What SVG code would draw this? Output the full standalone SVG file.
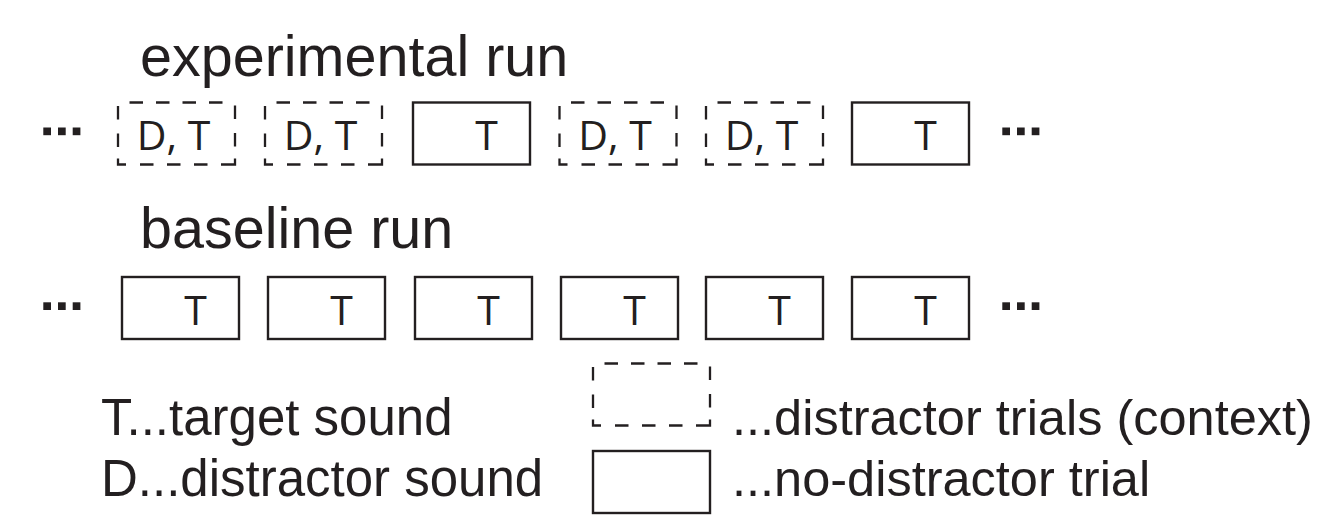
<svg xmlns="http://www.w3.org/2000/svg" xmlns:xlink="http://www.w3.org/1999/xlink" width="1336" height="515" viewBox="0 0 1336 515">
  <style>
    .title { font-family: "Liberation Sans", Arial, sans-serif; font-size: 57.5px; fill: #231f20; }
    .legend { font-family: "Liberation Sans", Arial, sans-serif; font-size: 51px; fill: #231f20; }
    .legend-r { font-family: "Liberation Sans", Arial, sans-serif; font-size: 50.5px; fill: #231f20; }
    .cell { font-family: "Open Sans", "Liberation Sans", sans-serif; font-size: 41px; fill: #231f20; text-anchor: middle; }
    .solid { fill: none; stroke: #231f20; stroke-width: 2.4; }
    .dashed { fill: none; stroke: #231f20; stroke-width: 2.3; stroke-linecap: butt; stroke-linejoin: miter; }
    .dot { fill: #231f20; }
  </style>
  <defs>
    <!-- solid trial frame, 117 x 62 -->
    <rect id="solid-frame" class="solid" x="0" y="0" width="117" height="62"/>
    <!-- dashed trial frame, 117 x 62, bottom corners drawn as brackets -->
    <path id="dashed-frame" class="dashed" d="M0,3.5 V17 M0,31 V44.5 M0,56 V62 H8 M22,62 H35.5 M49,62 H62.5 M76,62 H89.5 M103,62 H117 V56 M117,44 V30.5 M117,16.5 V3 M11.5,0 H25 M38,0 H51.5 M64.5,0 H78 M91,0 H104.5"/>
    <!-- ellipsis made of three squares -->
    <g id="ellipsis">
      <rect class="dot" x="0" y="0" width="7.7" height="7.7"/>
      <rect class="dot" x="14.7" y="0" width="7.7" height="7.7"/>
      <rect class="dot" x="29.4" y="0" width="7.7" height="7.7"/>
    </g>
  </defs>

  <!-- experimental run -->
  <text id="title-experimental" class="title" x="140" y="76">experimental run</text>
  <g id="exp-dots-left" transform="translate(43.3,127.5)"><use xlink:href="#ellipsis"/></g>
  <g id="exp-1" transform="translate(118,102.5)"><use xlink:href="#dashed-frame"/><text class="cell" x="55.5" y="47">D, T</text></g>
  <g id="exp-2" transform="translate(265,102.5)"><use xlink:href="#dashed-frame"/><text class="cell" x="55.5" y="47">D, T</text></g>
  <g id="exp-3" transform="translate(413,102.5)"><use xlink:href="#solid-frame"/><text class="cell" x="73.5" y="47">T</text></g>
  <g id="exp-4" transform="translate(559.5,102.5)"><use xlink:href="#dashed-frame"/><text class="cell" x="55.5" y="47">D, T</text></g>
  <g id="exp-5" transform="translate(706,102.5)"><use xlink:href="#dashed-frame"/><text class="cell" x="55.5" y="47">D, T</text></g>
  <g id="exp-6" transform="translate(852,102.5)"><use xlink:href="#solid-frame"/><text class="cell" x="73.5" y="47">T</text></g>
  <g id="exp-dots-right" transform="translate(1002.3,127.5)"><use xlink:href="#ellipsis"/></g>

  <!-- baseline run -->
  <text id="title-baseline" class="title" x="140" y="248">baseline run</text>
  <g id="base-dots-left" transform="translate(43.3,302.3)"><use xlink:href="#ellipsis"/></g>
  <g id="base-1" transform="translate(122,277)"><use xlink:href="#solid-frame"/><text class="cell" x="73.5" y="48">T</text></g>
  <g id="base-2" transform="translate(268,277)"><use xlink:href="#solid-frame"/><text class="cell" x="73.5" y="48">T</text></g>
  <g id="base-3" transform="translate(415,277)"><use xlink:href="#solid-frame"/><text class="cell" x="73.5" y="48">T</text></g>
  <g id="base-4" transform="translate(561,277)"><use xlink:href="#solid-frame"/><text class="cell" x="73.5" y="48">T</text></g>
  <g id="base-5" transform="translate(706,277)"><use xlink:href="#solid-frame"/><text class="cell" x="73.5" y="48">T</text></g>
  <g id="base-6" transform="translate(852,277)"><use xlink:href="#solid-frame"/><text class="cell" x="73.5" y="48">T</text></g>
  <g id="base-dots-right" transform="translate(1002.3,302.3)"><use xlink:href="#ellipsis"/></g>

  <!-- legend -->
  <g id="legend-symbols">
    <text class="legend" x="101" y="435">T...target sound</text>
    <text class="legend" x="101" y="496">D...distractor sound</text>
  </g>
  <g id="legend-dashed" transform="translate(593,363.5)">
    <use xlink:href="#dashed-frame"/>
    <text class="legend-r" x="139" y="71.5">...distractor trials (context)</text>
  </g>
  <g id="legend-solid" transform="translate(593,451)">
    <use xlink:href="#solid-frame"/>
    <text class="legend-r" x="139" y="45">...no-distractor trial</text>
  </g>
</svg>
